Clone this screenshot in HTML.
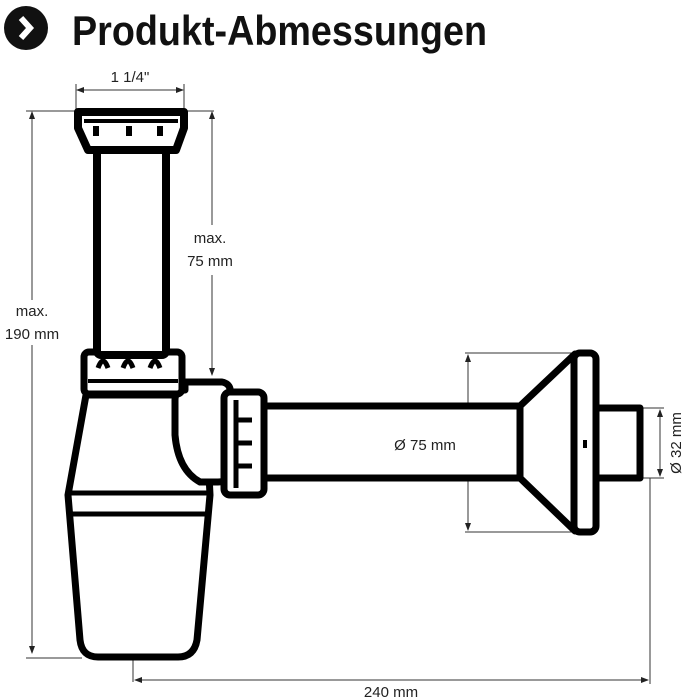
<!DOCTYPE html>
<html><head><meta charset="utf-8"><style>
html,body{margin:0;padding:0;background:#fff;}
svg{display:block;}
text{font-family:"Liberation Sans",sans-serif;fill:#222;}
</style></head><body>
<svg width="686" height="700" viewBox="0 0 686 700" xmlns="http://www.w3.org/2000/svg">
<defs>
<marker id="a" markerWidth="8" markerHeight="6" refX="7" refY="3" orient="auto-start-reverse" markerUnits="userSpaceOnUse"><path d="M0,0 L8,3 L0,6 z" fill="#222"/></marker>
</defs>
<!-- title -->
<circle cx="26" cy="28" r="22" fill="#111"/>
<path d="M21,18 L30,28 L21,38" fill="none" stroke="#fff" stroke-width="6"/>
<text x="72" y="45" font-size="42" font-weight="bold" textLength="415" lengthAdjust="spacingAndGlyphs" style="fill:#111">Produkt-Abmessungen</text>

<!-- dimension lines -->
<g stroke="#333" stroke-width="1" fill="none">
<line x1="76" y1="84" x2="76" y2="112"/><line x1="184" y1="84" x2="184" y2="112"/>
<line x1="77" y1="90" x2="183" y2="90" marker-start="url(#a)" marker-end="url(#a)"/>
<line x1="26" y1="111" x2="214" y2="111"/>
<line x1="32" y1="112" x2="32" y2="300" marker-start="url(#a)"/>
<line x1="32" y1="345" x2="32" y2="653" marker-end="url(#a)"/>
<line x1="26" y1="658" x2="82" y2="658"/>
<line x1="212" y1="112" x2="212" y2="225" marker-start="url(#a)"/>
<line x1="212" y1="275" x2="212" y2="375" marker-end="url(#a)"/>
<line x1="465" y1="353" x2="575" y2="353"/><line x1="465" y1="532" x2="575" y2="532"/>
<line x1="468" y1="355" x2="468" y2="530" marker-start="url(#a)" marker-end="url(#a)"/>
<line x1="640" y1="408" x2="664" y2="408"/><line x1="640" y1="478" x2="664" y2="478"/>
<line x1="660" y1="410" x2="660" y2="476" marker-start="url(#a)" marker-end="url(#a)"/>
<line x1="133" y1="577" x2="133" y2="682"/>
<line x1="650" y1="478" x2="650" y2="684"/>
<line x1="135" y1="680" x2="648" y2="680" marker-start="url(#a)" marker-end="url(#a)"/>
</g>
<text x="130" y="82" font-size="15" text-anchor="middle">1 1/4"</text>
<text x="32" y="316" font-size="15" text-anchor="middle">max.</text>
<text x="32" y="339" font-size="15" text-anchor="middle">190 mm</text>
<text x="210" y="243" font-size="15" text-anchor="middle">max.</text>
<text x="210" y="266" font-size="15" text-anchor="middle">75 mm</text>
<text x="391" y="697" font-size="15" text-anchor="middle">240 mm</text>
<text transform="translate(681,443) rotate(-90)" font-size="15" text-anchor="middle">Ø 32 mm</text>

<!-- siphon drawing -->
<g stroke="#000" fill="#fff" stroke-linejoin="round">
<!-- horizontal pipe -->
<rect x="255" y="406" width="270" height="72" stroke-width="7"/>
<!-- cone -->
<path d="M520,406 L575,354 L575,531 L520,478 Z" stroke-width="7"/>
<rect x="574" y="353" width="22" height="179" rx="6" stroke-width="7"/>
<line x1="585" y1="440" x2="585" y2="448" stroke-width="4"/>
<rect x="596" y="408" width="44" height="70" stroke-width="7"/>
<!-- body -->
<path d="M86,395 L205,395 L210,495 L197,640 Q194,657 178,657 L98,657 Q82,657 80,640 L68,495 Z" stroke-width="7"/>
<path d="M70,493 L208,493 M70,514 L207,514" stroke-width="5"/>
<!-- elbow -->
<path d="M185,382 L222,382 Q232,384 230,395 L230,470 Q230,482 218,482 L200,482 Q178,470 175,435 L175,400 Q175,390 185,390 Z" stroke-width="7"/>
<!-- connector nut -->
<rect x="224" y="392" width="40" height="103" rx="6" stroke-width="7"/>
<line x1="236" y1="400" x2="236" y2="488" stroke-width="5"/>
<path d="M238,420 L252,420 M238,443 L252,443 M238,466 L252,466" stroke-width="5"/>
<!-- lower nut -->
<rect x="84" y="352" width="98" height="42" rx="5" stroke-width="7"/>
<path d="M98,368 q5,-14 10,0 M123,368 q5,-14 10,0 M150,368 q5,-14 10,0" stroke-width="5"/>
<line x1="88" y1="381" x2="178" y2="381" stroke-width="4"/>
<!-- tube -->
<rect x="97" y="150" width="69" height="205" rx="4" stroke-width="8"/>
<!-- top nut -->
<path d="M78,112 L184,112 L184,128 L176,150 L88,150 L78,128 Z" stroke-width="8"/>
<line x1="84" y1="121" x2="178" y2="121" stroke-width="4"/>
<path d="M96,126 L96,136 M129,126 L129,136 M160,126 L160,136" stroke-width="6"/>
</g>
<text x="425" y="450" font-size="15" text-anchor="middle">Ø 75 mm</text>
</svg>
</body></html>
